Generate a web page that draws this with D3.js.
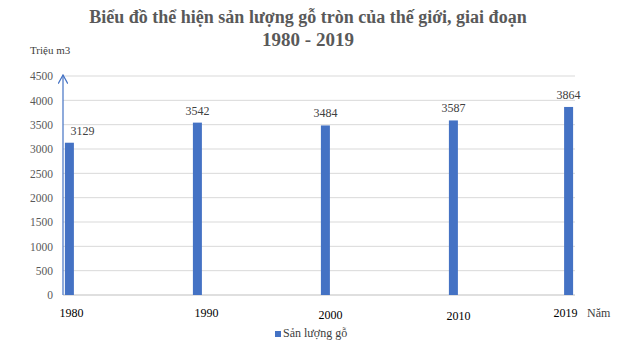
<!DOCTYPE html>
<html>
<head>
<meta charset="utf-8">
<script src="https://cdn.jsdelivr.net/npm/d3@7"></script>
<style>
  body { margin: 0; background: #fff; }
  svg text { font-family: "Liberation Serif", "Times New Roman", serif !important; }
</style>
</head>
<body>
<div id="chart"></div>
<script>
// data
var years = [1980, 1990, 2000, 2010, 2019];
var values = [3129, 3542, 3484, 3587, 3864];
var yTicks = [0, 500, 1000, 1500, 2000, 2500, 3000, 3500, 4000, 4500];
var titleLines = ["Biểu đồ thể hiện sản lượng gỗ tròn của thế giới, giai đoạn", "1980 - 2019"];
var seriesName = "Sản lượng gỗ";

var width = 618, height = 345;
var margin = { top: 76, right: 43, bottom: 50, left: 63 };
var w = width - margin.left - margin.right,
    h = height - margin.top - margin.bottom;

var svg = d3.select("#chart")
    .append("svg")
    .attr("width", width)
    .attr("height", height);

// title
svg.append("text")
    .attr("text-anchor", "middle")
    .attr("font-weight", "bold")
    .attr("fill", "#595959")
    .selectAll("tspan")
    .data(titleLines)
    .enter()
    .append("tspan")
    .attr("x", 308)
    .attr("y", function (d, i) { return 23 + i * 23; })
    .attr("font-size", function (d, i) { return i === 0 ? 18 : 19; })
    .text(function (d) { return d; });

var g = svg.append("g")
    .attr("transform", "translate(" + margin.left + "," + margin.top + ")");

// scales - years on a linear axis
var x = d3.scaleLinear()
    .domain([1979.5, 2019.5])
    .range([0, w]);
var y = d3.scaleLinear()
    .domain([0, 4500])
    .range([h, 0]);

// gridlines
g.append("g")
    .selectAll("line")
    .data(yTicks.slice(1))
    .enter()
    .append("line")
    .attr("x1", 0)
    .attr("x2", w)
    .attr("y1", function (d) { return y(d); })
    .attr("y2", function (d) { return y(d); })
    .attr("stroke", "#d9d9d9")
    .attr("stroke-width", 1);

// y tick labels
var yAxis = g.append("g")
    .call(d3.axisLeft(y).tickValues(yTicks).tickFormat(d3.format("d")).tickSize(0).tickPadding(10));
yAxis.select(".domain").remove();
yAxis.selectAll("text")
    .attr("font-size", 11.5)
    .attr("fill", "#595959");

// x axis line
g.append("line")
    .attr("x1", 0)
    .attr("x2", w)
    .attr("y1", h)
    .attr("y2", h)
    .attr("stroke", "#bfbfbf");

// bars
var barW = 9;
g.selectAll("rect.bar")
    .data(values)
    .enter()
    .append("rect")
    .attr("class", "bar")
    .attr("x", function (d, i) { return x(years[i]) - barW / 2; })
    .attr("y", function (d) { return y(d); })
    .attr("width", barW)
    .attr("height", function (d) { return h - y(d); })
    .attr("fill", "#4472c4");

// value labels
g.selectAll("text.val")
    .data(values)
    .enter()
    .append("text")
    .attr("class", "val")
    .attr("x", function (d, i) { return x(years[i]) + (i === 0 ? 13 : 0); })
    .attr("y", function (d) { return y(d) - 8; })
    .attr("text-anchor", "middle")
    .attr("font-size", 12)
    .attr("fill", "#404040")
    .text(function (d) { return d; });

// year labels (slightly staggered like the original)
var yearDy = [22, 22, 24, 25, 22];
var yearDx = [2, 9, 5, 5, -3];
g.selectAll("text.yr")
    .data(years)
    .enter()
    .append("text")
    .attr("class", "yr")
    .attr("x", function (d, i) { return x(d) + yearDx[i]; })
    .attr("y", function (d, i) { return h + yearDy[i]; })
    .attr("text-anchor", "middle")
    .attr("font-size", 12)
    .attr("fill", "#000")
    .text(function (d) { return d; });

// y axis arrow
svg.append("defs").append("marker")
    .attr("id", "arrow")
    .attr("viewBox", "0 0 10 10")
    .attr("refX", 9)
    .attr("refY", 5)
    .attr("markerWidth", 8)
    .attr("markerHeight", 8)
    .attr("orient", "auto")
    .append("path")
    .attr("d", "M0,0 L9,5 L0,10")
    .attr("fill", "none")
    .attr("stroke", "#4472c4")
    .attr("stroke-width", 1.3);
g.append("line")
    .attr("x1", 0)
    .attr("x2", 0)
    .attr("y1", h)
    .attr("y2", -1)
    .attr("stroke", "#4472c4")
    .attr("stroke-width", 1.2)
    .attr("marker-end", "url(#arrow)");

// axis captions
svg.append("text")
    .attr("x", 30)
    .attr("y", 54)
    .attr("font-size", 11)
    .attr("fill", "#404040")
    .text("Triệu m3");
svg.append("text")
    .attr("x", 587)
    .attr("y", 317)
    .attr("font-size", 12)
    .attr("fill", "#404040")
    .text("Năm");

// legend
var legend = svg.append("g").attr("transform", "translate(275,337)");
legend.append("rect")
    .attr("x", 0)
    .attr("y", -6)
    .attr("width", 6)
    .attr("height", 6)
    .attr("fill", "#4472c4");
legend.append("text")
    .attr("x", 8)
    .attr("y", 0)
    .attr("font-size", 12)
    .attr("fill", "#404040")
    .text(seriesName);
</script>
</body>
</html>
